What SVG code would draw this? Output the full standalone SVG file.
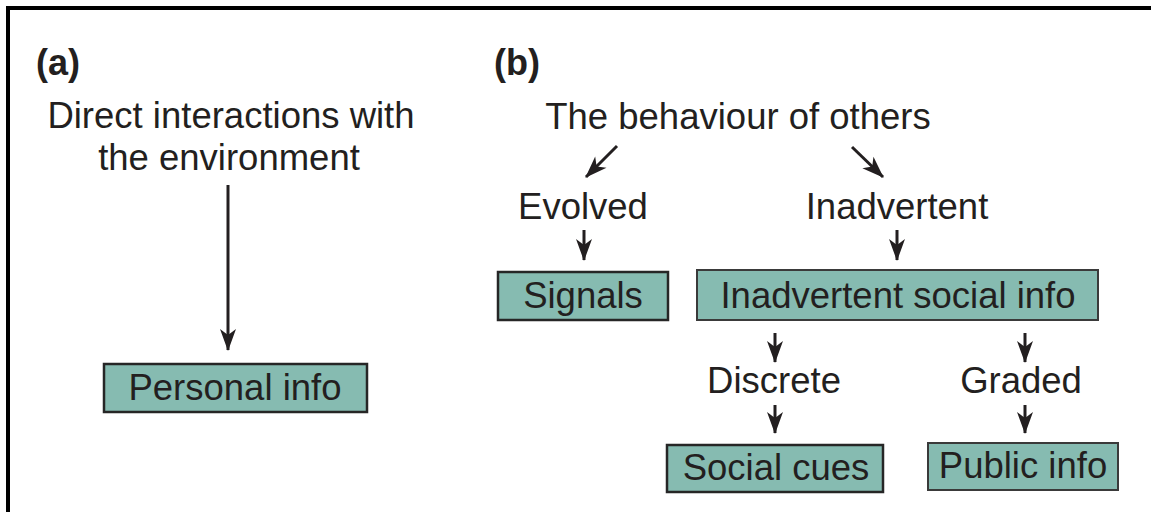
<svg xmlns="http://www.w3.org/2000/svg" width="1151" height="512" viewBox="0 0 1151 512">
<style>
.t{font-family:"Liberation Sans",Arial,sans-serif;font-size:36.5px;fill:#231f20;text-anchor:middle}
.h{font-family:"Liberation Sans",Arial,sans-serif;font-size:36px;font-weight:bold;fill:#231f20}
.box{fill:#86bbb1;stroke:#262626;stroke-width:2.5}
.box2{fill:#86bbb1;stroke:#3a3a3a;stroke-width:2}
.c{stroke:#231f20;stroke-width:3;fill:none;marker-end:url(#ah)}
</style>
<defs>
<marker id="ah" markerUnits="userSpaceOnUse" orient="auto" refX="0" refY="0" markerWidth="30" markerHeight="20" overflow="visible">
<path d="M1,0 L-21,-8 L-15,0 L-21,8 Z" fill="#231f20"/>
</marker>
</defs>
<rect width="1151" height="512" fill="#ffffff"/>
<path d="M8,512 V8 H1151" fill="none" stroke="#000" stroke-width="4"/>
<g id="label-a"><text class="h" x="36" y="75">(a)</text></g>
<g id="label-b"><text class="h" x="494" y="75">(b)</text></g>
<g id="direct"><text class="t" x="231" y="128">Direct interactions with</text><text class="t" x="229" y="170">the environment</text></g>
<g id="personal"><rect class="box" x="104" y="364" width="263" height="48"/><text class="t" x="235" y="400">Personal info</text></g>
<g id="behaviour"><text class="t" x="738" y="129">The behaviour of others</text></g>
<g id="evolved"><text class="t" x="583" y="219">Evolved</text></g>
<g id="inadvertent"><text class="t" x="897" y="219">Inadvertent</text></g>
<g id="signals"><rect class="box" x="498" y="272" width="170" height="48"/><text class="t" x="583" y="308">Signals</text></g>
<g id="isi"><rect class="box2" x="697" y="270" width="401" height="50"/><text class="t" x="898" y="308">Inadvertent social info</text></g>
<g id="discrete"><text class="t" x="774" y="393">Discrete</text></g>
<g id="graded"><text class="t" x="1021" y="393">Graded</text></g>
<g id="socialcues"><rect class="box" x="667" y="445" width="216" height="47"/><text class="t" x="776" y="480">Social cues</text></g>
<g id="publicinfo"><rect class="box2" x="928" y="443" width="190" height="47"/><text class="t" x="1023" y="478">Public info</text></g>
<g id="connectors">
<line class="c" x1="228" y1="185" x2="228" y2="350"/>
<line class="c" x1="617" y1="146" x2="586" y2="177"/>
<line class="c" x1="852" y1="147" x2="883" y2="177"/>
<line class="c" x1="584" y1="230" x2="584" y2="260"/>
<line class="c" x1="897" y1="230" x2="897" y2="260"/>
<line class="c" x1="775" y1="333" x2="775" y2="362"/>
<line class="c" x1="775" y1="405" x2="775" y2="433"/>
<line class="c" x1="1025" y1="333" x2="1025" y2="362"/>
<line class="c" x1="1025" y1="405" x2="1025" y2="433"/>
</g>
</svg>
